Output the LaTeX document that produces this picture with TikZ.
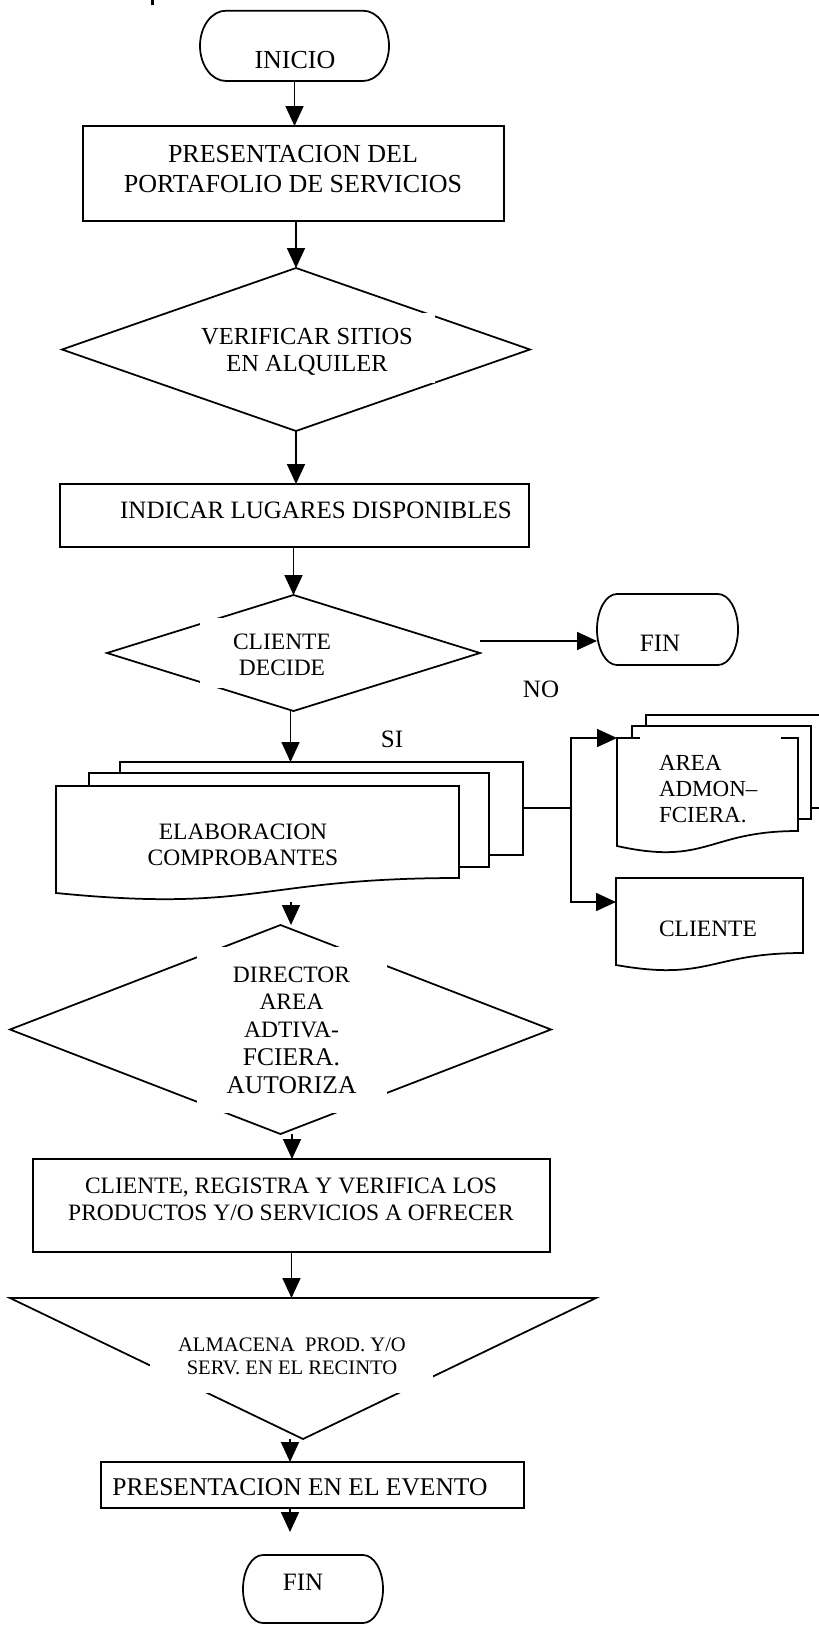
\documentclass[tikz,border=0pt]{standalone}
\usepackage{fontspec}
\setmainfont{Liberation Serif}
\usetikzlibrary{arrows.meta,shapes.geometric}

% terminal outline: flat top and bottom, elliptic sides
% #1 node name, #2 side bulge, #3 half height
\newcommand\termframe[3]{%
  \draw ([xshift=#2]#1.north west) -- ([xshift=-#2]#1.north east)
    arc[start angle=90,end angle=-90,x radius=#2,y radius=#3]
    -- ([xshift=#2]#1.south west)
    arc[start angle=270,end angle=90,x radius=#2,y radius=#3] -- cycle;}

\begin{document}
\begin{tikzpicture}[x=1pt,y=-1pt,line width=1.75pt,
  arr/.style={-{Triangle[length=20pt,width=18pt]}},
  frame/.style={rectangle,draw=none,inner sep=0pt,outer sep=0pt},
  procbox/.style={rectangle,draw,inner sep=0pt,outer sep=0pt},
  decision/.style={diamond,draw,inner sep=0pt,outer sep=0pt},
  txt/.style={inner sep=0pt,outer sep=0pt,align=center},
]
\useasboundingbox (0,0) rectangle (819,1625);

% remains of the heading above the chart
\fill (150.5,0) rectangle (153.5,4.5);

% ---------- INICIO ----------
\node[frame,minimum width=189pt,minimum height=70.3pt] (ini) at (294.5,45.85) {};
\termframe{ini}{26pt}{35.15pt}
\node[txt,font=\fontsize{26}{30}\selectfont] (iniT) at (295,60) {INICIO};

% ---------- PRESENTACION DEL PORTAFOLIO ----------
\node[procbox,minimum width=421pt,minimum height=95pt] (pres) at (293.5,173.5) {};
\node[txt,font=\fontsize{26}{30}\selectfont] (presT) at (293,169)
  {PRESENTACION DEL\\PORTAFOLIO DE SERVICIOS};

% ---------- VERIFICAR SITIOS ----------
\node[decision,minimum width=468pt,minimum height=163pt] (ver) at (296,349.5) {};
\fill[white] (170,313) rectangle (435,383);
\node[txt,font=\fontsize{24.5}{27}\selectfont] (verT) at (307,351.5)
  {VERIFICAR SITIOS\\EN ALQUILER};

% ---------- INDICAR LUGARES ----------
\node[procbox,minimum width=469pt,minimum height=63pt] (ind) at (294.5,515.5) {};
\node[txt,font=\fontsize{25}{29}\selectfont] (indT) at (316,510)
  {INDICAR LUGARES DISPONIBLES};

% ---------- CLIENTE DECIDE ----------
\node[decision,minimum width=373pt,minimum height=116pt] (cli) at (293.5,653) {};
\fill[white] (200,618) rectangle (364,688);
\node[txt,font=\fontsize{23.5}{26}\selectfont] (cliT) at (282,655) {CLIENTE\\DECIDE};

% ---------- FIN (NO branch) ----------
\node[frame,minimum width=141pt,minimum height=71pt] (fin1) at (667.5,629.5) {};
\termframe{fin1}{20pt}{35.5pt}
\node[txt,font=\fontsize{25}{29}\selectfont] (fin1T) at (660,643) {FIN};
\node[txt,font=\fontsize{25}{29}\selectfont] (noL) at (541,689) {NO};
\node[txt,font=\fontsize{25}{29}\selectfont] (siL) at (392,739) {SI};

% ---------- ELABORACION COMPROBANTES (multi-document) ----------
\node[procbox,fill=white,minimum width=403pt,minimum height=93pt] (elabC) at (321.5,808.5) {};
\node[procbox,fill=white,minimum width=400pt,minimum height=94pt] (elabB) at (289,820) {};
\draw[fill=white] (56,786) -- (459,786) -- (459,878)
  .. controls (257.5,878) and (257.5,913) .. (56,893) -- cycle;
\node[txt,font=\fontsize{23.5}{26}\selectfont] (elabT) at (243,845)
  {ELABORACION\\COMPROBANTES};

% ---------- AREA ADMON-FCIERA (multi-document) ----------
\node[procbox,fill=white,minimum width=179pt,minimum height=93pt] (areaC) at (735.5,761.5) {};
\node[procbox,fill=white,minimum width=179pt,minimum height=93pt] (areaB) at (721.5,772.5) {};
\draw[fill=white] (617,738) -- (798,738) -- (798,831)
  .. controls (707.5,831) and (707.5,866) .. (617,846) -- cycle;
\fill[white] (640,731) rectangle (781,825);
\node[txt,align=left,anchor=west,font=\fontsize{23}{26}\selectfont] (areaT) at (659,789)
  {AREA\\ADMON–\\FCIERA.};

% ---------- CLIENTE (document) ----------
\draw[fill=white] (616,878) -- (803,878) -- (803,953)
  .. controls (709.5,953) and (709.5,981.5) .. (616,965) -- cycle;
\node[txt,font=\fontsize{23.5}{26}\selectfont] (cdocT) at (708,929) {CLIENTE};

% ---------- DIRECTOR AUTORIZA ----------
\node[decision,minimum width=541pt,minimum height=209pt] (dir) at (280.5,1029.5) {};
\fill[white] (197,947) rectangle (387,1113);
\node[txt,font=\fontsize{23.5}{27.7}\selectfont] (dirT) at (291.5,1030)
  {DIRECTOR\\AREA\\ADTIVA-\\\fontsize{25.5}{27.7}\selectfont FCIERA.\\\fontsize{25.5}{27.7}\selectfont AUTORIZA};

% ---------- CLIENTE REGISTRA ----------
\node[procbox,minimum width=517pt,minimum height=93pt] (reg) at (291.5,1205.5) {};
\node[txt,font=\fontsize{23.5}{27}\selectfont] (regT) at (291,1199)
  {CLIENTE, REGISTRA Y VERIFICA LOS\\PRODUCTOS Y/O SERVICIOS A OFRECER};

% ---------- ALMACENA (storage triangle) ----------
\coordinate (almL) at (10,1298);
\coordinate (almR) at (596,1298);
\coordinate (almB) at (303,1439);
\draw (almL) -- (almR) -- (almB) -- cycle;
\fill[white] (150,1320) rectangle (433,1393);
\node[txt,font=\fontsize{20.6}{23}\selectfont] (almT) at (292,1356.5)
  {ALMACENA~ PROD. Y/O\\SERV. EN EL RECINTO};

% ---------- PRESENTACION EN EL EVENTO ----------
\node[procbox,minimum width=423pt,minimum height=46pt] (ev) at (312.5,1485) {};
\node[txt,font=\fontsize{25.5}{29}\selectfont] (evT) at (300,1487) {PRESENTACION EN EL EVENTO};

% ---------- FIN ----------
\node[frame,minimum width=140pt,minimum height=68pt] (fin2) at (313,1589) {};
\termframe{fin2}{20pt}{34pt}
\node[txt,font=\fontsize{25}{29}\selectfont] (fin2T) at (303,1582) {FIN};

% ---------- connectors ----------
\draw[arr] (ini.south) -- (ini.south |- pres.north);
\draw[arr] (ver.north |- pres.south) -- (ver.north);
\draw[arr] (ver.south) -- (ver.south |- ind.north);
\draw[arr] (cli.north |- ind.south) -- (cli.north);
\coordinate (noOut) at (480,641);
\draw[arr] (noOut) -- (noOut -| fin1.west);
\draw[arr] ([xshift=-3pt]cli.south) -- ([xshift=-3pt]cli.south |- elabC.north);

\coordinate (jn) at (571,808);
\coordinate (areaIn) at (617,738);
\coordinate (cdocIn) at (616,902);
\draw (elabC.east |- jn) -- (jn);
\draw[arr] (jn) |- (areaIn);
\draw[arr] (jn) |- (cdocIn);

\coordinate (elabOut) at (291,902);
\draw[arr] (elabOut) -- (elabOut |- dir.north);
\draw[arr] ([xshift=11.5pt]dir.south) -- ([xshift=11.5pt]dir.south |- reg.north);
\draw[arr] (reg.south) -- (reg.south |- almL);
\coordinate (almOut) at (290,1439);
\draw[arr] (almOut) -- (almOut |- ev.north);
\coordinate (evOut) at (290,1532);
\draw[arr] (evOut |- ev.south) -- (evOut);
\end{tikzpicture}
\end{document}
